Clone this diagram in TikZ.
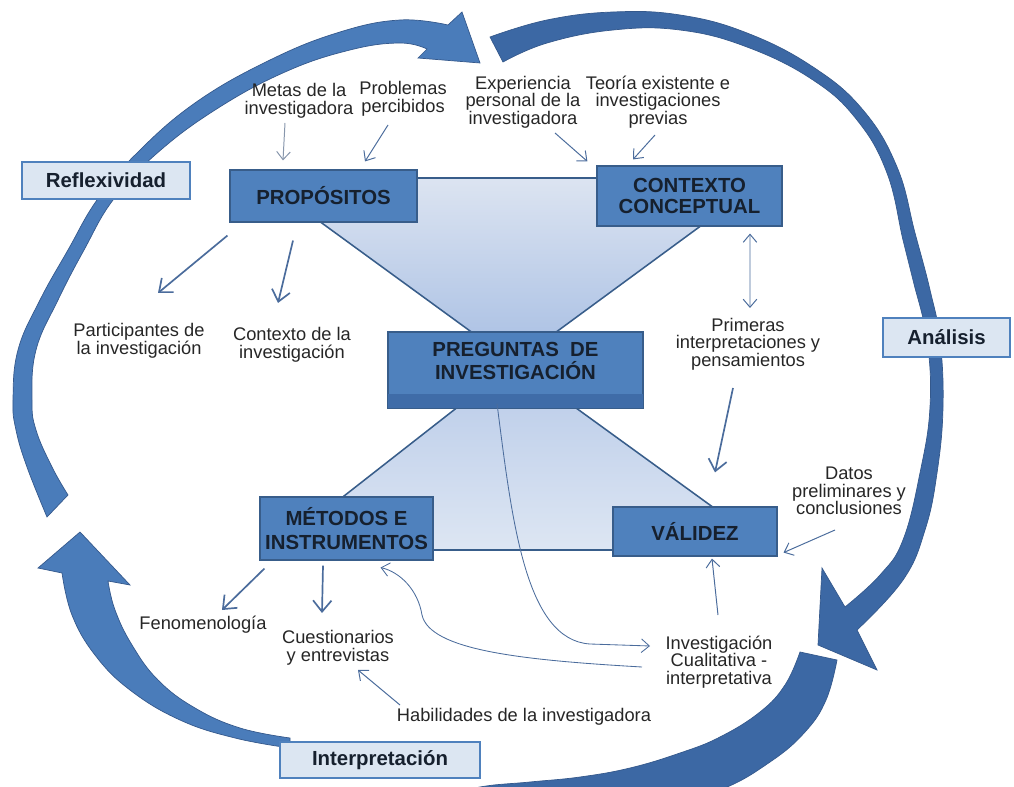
\documentclass[tikz,border=0pt]{standalone}
\usepackage{fontspec}
\setmainfont{Liberation Sans}
\usetikzlibrary{arrows.meta,positioning}

\definecolor{boxblue}{HTML}{4F81BD}
\definecolor{boxline}{HTML}{385D8A}
\definecolor{bevelblue}{HTML}{3F6CA8}
\definecolor{bandlight}{HTML}{4A7CBA}
\definecolor{banddark}{HTML}{3C68A4}
\definecolor{bandline}{HTML}{35598C}
\definecolor{paleblue}{HTML}{DCE6F2}
\definecolor{linkblue}{HTML}{4B6C9C}
\definecolor{linkgrey}{HTML}{8796AC}
\definecolor{titletext}{HTML}{16202E}
\definecolor{notetext}{HTML}{262626}
\definecolor{hgtop}{HTML}{DCE4F1}
\definecolor{hgmid}{HTML}{A7BEE3}
\definecolor{hglow}{HTML}{B8CAE8}
\definecolor{hgbot}{HTML}{DDE6F3}

\tikzset{
  mainbox/.style={draw=boxline, fill=boxblue, line width=0.8pt, text=titletext,
    font=\fontsize{14.5}{17}\selectfont\bfseries, align=center, inner sep=0pt},
  phasebox/.style={draw=boxblue, fill=paleblue, line width=1.6pt, text=titletext,
    font=\fontsize{14.5}{17}\selectfont\bfseries, inner sep=0pt},
  note/.style={font=\fontsize{13}{12.6}\selectfont, text=notetext, align=center, inner sep=0pt},
  link/.style={draw=linkblue, line width=0.7pt, -{Straight Barb[length=2mm,width=3.4mm]}},
  boldlink/.style={link, line width=1.2pt, -{Straight Barb[length=2.8mm,width=4.6mm]}},
  band/.style={draw=bandline, line width=0.5pt},
}

\begin{document}
\begin{tikzpicture}[x=0.025cm,y=-0.025cm]
                \useasboundingbox (0,0) rectangle (1014,787);
                % cycle of the four phases
                \filldraw[band,fill=bandlight]
                    plot[smooth,tension=0.7] coordinates {(47,517) (27,467) (16,430) (13,400) (18,350) (40,300) (68,250) (97,200) (135,155) (195,103) (270,60) (340,32) (400,20) (448,25)}
                    -- (462,12) -- (480,63) -- (418,58) -- (427,49)
                    -- plot[smooth,tension=0.7] coordinates {(427,49) (400,43) (350,50) (285,72) (215,110) (155,155) (113,200) (84,250) (58,300) (36,350) (32,400) (36,430) (52,467) (68,495)}
                    -- cycle;
                \filldraw[band,fill=banddark]
                    plot[smooth,tension=0.7] coordinates {(490,37) (547,20) (613,12) (680,15) (747,33) (813,67) (863,110) (897,167) (915,233) (930,290) (940,340) (943,407) (937,473) (925,530) (903,580) (857,630)}
                    -- (877,670) -- (818,645) -- (822,568) -- (845,607)
                    -- plot[smooth,tension=0.7] coordinates {(845,607) (880,575) (903,540) (920,473) (930,407) (927,340) (913,280) (903,240) (887,173) (857,120) (813,80) (747,47) (680,30) (613,30) (547,43) (503,62)}
                    -- cycle;
                \filldraw[band,fill=banddark]
                    plot[smooth,tension=0.7] coordinates {(837,660) (826,700) (805,732) (770,762) (720,790) (650,810) (560,820) (450,822)}
                    -- plot[smooth,tension=0.7] coordinates {(440,798) (480,787) (530,782) (580,777) (630,768) (680,753) (720,737) (760,712) (785,685) (800,652)}
                    -- cycle;
                \filldraw[band,fill=bandlight]
                    plot[smooth,tension=0.7] coordinates {(290,748) (235,738) (180,720) (130,690) (95,655) (72,615) (62,573)}
                    -- (38,568) -- (80,532) -- (130,585) -- (108,581)
                    -- plot[smooth,tension=0.7] coordinates {(108,581) (115,610) (132,645) (158,680) (195,708) (240,728) (290,738)}
                    -- cycle;
                % hourglass
                \shade[top color=hgtop,bottom color=hgmid] (260,178) -- (766,178) -- (514,363) -- cycle;
                \shade[top color=hglow,bottom color=hgbot] (514,363) -- (772,550) -- (275,550) -- cycle;
                \draw[boxline,line width=1.1pt,line join=round] (260,178) -- (766,178) -- (514,363) -- cycle
                    (514,363) -- (772,550) -- (275,550) -- cycle;
                % boxes
                \node[mainbox,minimum width=4.675cm,minimum height=1.3cm] (prop) at (323.5,196) {PROPÓSITOS};
                \node[mainbox,minimum width=4.625cm,minimum height=1.5cm,font=\fontsize{14.5}{15}\selectfont\bfseries] (concep) at (689.5,196) {CONTEXTO\\CONCEPTUAL};
                \node[mainbox,minimum width=6.375cm,minimum height=1.9cm] (preg) at (515.5,370) {};
                \fill[bevelblue] ([shift={(0,-15)}]preg.south west) rectangle (preg.south east);
                \draw[boxline,line width=0.8pt] (preg.south west) rectangle (preg.north east);
                \node[mainbox,draw=none,fill=none] (pregtext) at (515.5,361) {PREGUNTAS\ \ DE\\INVESTIGACIÓN};
                \node[mainbox,minimum width=4.325cm,minimum height=1.575cm] (metod) at (346.5,528.5) {MÉTODOS E\\INSTRUMENTOS};
                \node[mainbox,minimum width=4.1cm,minimum height=1.225cm] (valid) at (695,531.5) {VÁLIDEZ};
                \node[phasebox,minimum width=4.2cm,minimum height=0.925cm] (reflex) at (106,180.5) {Reflexividad};
                \node[phasebox,minimum width=3.175cm,minimum height=0.975cm] (anal) at (946.5,337.5) {Análisis};
                \node[phasebox,minimum width=5cm,minimum height=0.9cm] (interp) at (380,760) {Interpretación};
                % notes
                \node[note] (metas) at (299,101) {Metas de la\\investigadora};
                \node[note] (probl) at (403,99) {Problemas\\percibidos};
                \node[note] (exper) at (523,102) {Experiencia\\personal de la\\investigadora};
                \node[note] (teoria) at (658,102) {Teoría existente e\\investigaciones\\previas};
                \node[note] (partic) at (139,341) {Participantes de\\la investigación};
                \node[note] (contx) at (292,345) {Contexto de la\\investigación};
                \node[note] (primer) at (748,344) {Primeras\\interpretaciones y\\pensamientos};
                \node[note] (datos) at (849,491) {Datos\\preliminares y\\conclusiones};
                \node[note] (fenom) at (203,625) {Fenomenología};
                \node[note] (cuest) at (338,648) {Cuestionarios\\y entrevistas};
                \node[note] (habil) at (524,717) {Habilidades de la investigadora};
                \node[note] (invcual) at (719,662) {Investigación\\Cualitativa -\\interpretativa};
                % connectors
                \draw[link,draw=linkgrey] ([shift={(-14,22)}]metas.center) -- ([shift={(-40.5,-9)}]prop.north);
                \draw[link] ([shift={(-15,26)}]probl.center) -- ([shift={(41.5,-8)}]prop.north);
                \draw[link] ([shift={(32,31)}]exper.center) -- ([shift={(-9,-4)}]concep.north west);
                \draw[link] ([shift={(-3,33)}]teoria.center) -- ([shift={(-56.5,-6)}]concep.north);
                \draw[boldlink] ([shift={(-2,13)}]prop.south west) -- ([shift={(19,-48)}]partic.center);
                \draw[boldlink] ([shift={(-30.5,18)}]prop.south) -- ([shift={(-14,-42)}]contx.center);
                \draw[link,{Straight Barb[length=2mm,width=3.4mm]}-{Straight Barb[length=2mm,width=3.4mm]}] ([shift={(60.5,7)}]concep.south) -- ([shift={(2,-36)}]primer.center);
                \draw[boldlink] ([shift={(-15,44)}]primer.center) -- ([shift={(20,-34)}]valid.north);
                \draw[link] ([shift={(-14,39)}]datos.center) -- ([shift={(6,-4)}]valid.south east);
                \draw[link] ([shift={(-1,-47)}]invcual.center) -- ([shift={(17,2)}]valid.south);
                \draw[link,line width=0.6pt] ([shift={(-18.5,-5)}]preg.south) .. controls (512,520) and (525,640) .. (590,644) -- ([shift={(-69,-16)}]invcual.center);
                \draw[link,line width=0.6pt] ([shift={(-77,5)}]invcual.center) .. controls (520,660) and (430,650) .. (422,615) .. controls (418,590) and (400,572) .. ([shift={(-53,7)}]metod.south east);
                \draw[boldlink] ([shift={(5,8)}]metod.south west) -- ([shift={(19,-15)}]fenom.center);
                \draw[boldlink] ([shift={(-23.5,5)}]metod.south) -- ([shift={(-16,-35)}]cuest.center);
                \draw[link] ([shift={(-124,-12)}]habil.center) -- ([shift={(20,22)}]cuest.center);
            \end{tikzpicture}
\end{document}
